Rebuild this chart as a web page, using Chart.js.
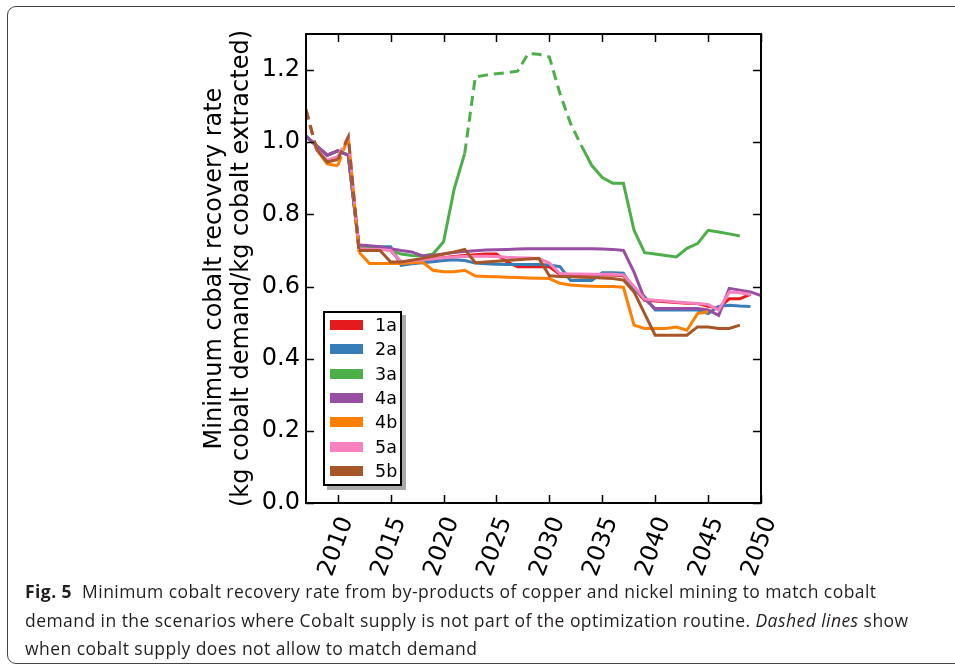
<!DOCTYPE html>
<html>
<head>
<meta charset="utf-8">
<script src="https://cdn.jsdelivr.net/npm/chart.js@4.4.1/dist/chart.umd.min.js"></script>
<style>
  body { margin: 0; background: #fff; overflow: hidden; width: 955px; height: 664px; }
  #frame { position: absolute; left: 7px; top: 6px; width: 980px; height: 656px; border: 1.3px solid #444; border-radius: 9px; }
  #wrap { position: absolute; left: 0; top: 0; width: 955px; height: 600px; }
  #legend { position: absolute; left: 323px; top: 311px; width: 79px; height: 175px; box-sizing: border-box;
            border: 2px solid #000; background: #fff; box-shadow: 4px 4px 0 #aaa; font-family: "DejaVu Sans"; font-size: 17.5px; }
  #legend .row { height: 24.3px; display: flex; align-items: center; }
  #legend .sw { width: 33px; height: 10px; margin-left: 5px; margin-right: 12px; }
  #caption { position: absolute; left: 25px; top: 577px; font-family: "Open Sans"; font-size: 17.5px; letter-spacing: 0.45px;
             line-height: 28.5px; color: #231f20; white-space: nowrap; }
</style>
</head>
<body>
<div id="frame"></div>
<div id="wrap"><canvas id="chart" width="955" height="600"></canvas></div>
<div id="legend"></div>
<div id="caption">
  <b>Fig. 5</b>&nbsp; Minimum cobalt recovery rate from by-products of copper and nickel mining to match cobalt<br>
  demand in the scenarios where Cobalt supply is not part of the optimization routine. <i>Dashed lines</i> show<br>
  when cobalt supply does not allow to match demand
</div>
<script>
const years = [2007, 2008, 2009, 2010, 2011, 2012, 2013, 2014, 2015, 2016,
               2017, 2018, 2019, 2020, 2021, 2022, 2023, 2024, 2025, 2026,
               2027, 2028, 2029, 2030, 2031, 2032, 2033, 2034, 2035, 2036,
               2037, 2038, 2039, 2040, 2041, 2042, 2043, 2044, 2045, 2046,
               2047, 2048, 2049, 2050];

const names = ['1a', '2a', '3a', '4a', '4b', '5a', '5b'];
const colors = ['#e41a1c', '#377eb8', '#4daf4a', '#984ea3', '#ff7f00', '#f781bf', '#a65628'];

const s1a = [1.017, 0.99, 0.964, 0.976, 0.964, 0.712, 0.71, 0.708, 0.70, 0.668,
             0.671, 0.674, 0.677, 0.68, 0.683, 0.686, 0.688, 0.69, 0.69, 0.668,
             0.655, 0.655, 0.655, 0.655, 0.634, 0.633, 0.633, 0.633, 0.632, 0.632,
             0.63, 0.595, 0.562, 0.56, 0.558, 0.556, 0.554, 0.553, 0.545, 0.54,
             0.566, 0.566, 0.578];
const s2a = [1.017, 0.99, 0.964, 0.976, 0.964, 0.712, 0.711, 0.71, 0.71, 0.659,
             0.663, 0.666, 0.669, 0.672, 0.674, 0.672, 0.665, 0.663, 0.662, 0.661,
             0.661, 0.661, 0.661, 0.66, 0.655, 0.617, 0.617, 0.617, 0.638, 0.638,
             0.637, 0.59, 0.572, 0.535, 0.535, 0.535, 0.535, 0.535, 0.525, 0.545,
             0.548, 0.546, 0.545];
const s3a = [1.017, 0.99, 0.964, 0.976, 0.964, 0.712, 0.71, 0.708, 0.70, 0.69,
             0.686, 0.685, 0.69, 0.724, 0.87, 0.969, 1.181, 1.186, 1.19, 1.193,
             1.197, 1.246, 1.244, 1.236, 1.135, 1.052, 0.992, 0.936, 0.902, 0.886,
             0.886, 0.756, 0.694, 0.69, 0.686, 0.682, 0.706, 0.719, 0.756, 0.751,
             0.746, 0.74];
const s4a = [1.017, 0.99, 0.964, 0.976, 0.964, 0.715, 0.713, 0.71, 0.705, 0.70,
             0.696, 0.685, 0.687, 0.69, 0.694, 0.697, 0.699, 0.701, 0.702, 0.703,
             0.704, 0.705, 0.705, 0.705, 0.705, 0.705, 0.705, 0.705, 0.704, 0.703,
             0.70, 0.64, 0.565, 0.539, 0.539, 0.539, 0.539, 0.539, 0.535, 0.52,
             0.595, 0.59, 0.585, 0.575];
const s4b = [1.09, 0.98, 0.94, 0.935, 1.015, 0.696, 0.664, 0.664, 0.664, 0.664,
             0.666, 0.668, 0.645, 0.641, 0.641, 0.645, 0.629, 0.628, 0.627, 0.626,
             0.625, 0.624, 0.623, 0.622, 0.609, 0.604, 0.602, 0.601, 0.60, 0.60,
             0.598, 0.493, 0.484, 0.484, 0.484, 0.488, 0.479, 0.525, 0.53];
const s5a = [1.09, 0.98, 0.95, 0.96, 1.015, 0.705, 0.703, 0.703, 0.70, 0.668,
             0.671, 0.674, 0.677, 0.68, 0.682, 0.683, 0.684, 0.684, 0.683, 0.681,
             0.68, 0.679, 0.678, 0.665, 0.636, 0.635, 0.635, 0.634, 0.634, 0.634,
             0.632, 0.60, 0.565, 0.562, 0.56, 0.557, 0.555, 0.553, 0.55, 0.535,
             0.585, 0.583, 0.578];
const s5b = [1.09, 0.98, 0.945, 0.952, 1.015, 0.70, 0.70, 0.70, 0.668, 0.668,
             0.673, 0.678, 0.684, 0.69, 0.696, 0.703, 0.666, 0.668, 0.67, 0.672,
             0.674, 0.676, 0.678, 0.63, 0.628, 0.627, 0.626, 0.625, 0.624, 0.622,
             0.618, 0.585, 0.525, 0.465, 0.465, 0.465, 0.465, 0.488, 0.488, 0.484,
             0.484, 0.493];
const series = [s1a, s2a, s3a, s4a, s4b, s5a, s5b];

// years where cobalt supply can't match demand (drawn dashed)
const shortYears = [[], [], [2023, 2024, 2025, 2026, 2027, 2028, 2029, 2030, 2031, 2032],
                    [], [2007, 2011], [2007, 2011], [2007, 2011]];

const xTicks = [2010, 2015, 2020, 2025, 2030, 2035, 2040, 2045, 2050];
const yTicks = [0, 0.2, 0.4, 0.6, 0.8, 1.0, 1.2];

const font = 'DejaVu Sans';

const frame = {
    id: 'frame',
    afterDatasetsDraw(chart) {
        const {ctx, chartArea: a, scales: {x, y}} = chart;
        ctx.save();
        ctx.strokeStyle = '#000';
        ctx.lineWidth = 1.5;
        ctx.beginPath();
        xTicks.forEach(v => {
            const px = Math.round(x.getPixelForValue(v)) + 0.5;
            ctx.moveTo(px, a.bottom); ctx.lineTo(px, a.bottom - 8);
            ctx.moveTo(px, a.top); ctx.lineTo(px, a.top + 8);
        });
        yTicks.forEach(v => {
            const py = Math.round(y.getPixelForValue(v)) + 0.5;
            ctx.moveTo(a.left, py); ctx.lineTo(a.left + 8, py);
            ctx.moveTo(a.right, py); ctx.lineTo(a.right - 8, py);
        });
        ctx.stroke();
        ctx.lineWidth = 2;
        ctx.strokeRect(a.left, a.top, a.width, a.height);
        ctx.restore();
    }
};

const datasets = names.map((n, i) => ({
    label: n,
    data: years.map((yr, k) => ({x: yr, y: series[i][k] ?? null})),
    borderColor: colors[i],
    backgroundColor: colors[i],
    borderWidth: 3,
    pointRadius: 0,
    tension: 0,
    order: names.length - i,
    segment: {
        borderDash: ctx => (shortYears[i].includes(years[ctx.p0DataIndex]) ||
                            shortYears[i].includes(years[ctx.p1DataIndex])) ? [10, 6] : undefined
    }
}));

const chart = new Chart(document.getElementById('chart'), {
    type: 'line',
    data: {datasets},
    plugins: [frame],
    options: {
        responsive: false,
        animation: false,
        devicePixelRatio: 1,
        layout: {padding: {left: 190, top: 34, right: 194, bottom: 0}},
        plugins: {legend: {display: false}, tooltip: {enabled: false}},
        scales: {
            x: {
                type: 'linear',
                min: 2007,
                max: 2050,
                afterBuildTicks: s => { s.ticks = xTicks.map(v => ({value: v})); },
                afterFit: s => { s.height = 97; },
                grid: {display: false, drawTicks: false},
                border: {display: false},
                ticks: {
                    autoSkip: false,
                    minRotation: 70,
                    maxRotation: 70,
                    padding: 10,
                    labelOffset: 9,
                    color: '#000',
                    font: {family: font, size: 24},
                    callback: v => String(v)
                }
            },
            y: {
                min: 0,
                max: 1.3,
                afterBuildTicks: s => { s.ticks = yTicks.map(v => ({value: v})); },
                afterFit: s => { s.width = 116; },
                grid: {display: false, drawTicks: false},
                border: {display: false},
                ticks: {
                    padding: 6,
                    color: '#000',
                    font: {family: font, size: 24},
                    callback: v => v.toFixed(1)
                },
                title: {
                    display: true,
                    text: ['Minimum cobalt recovery rate', '(kg cobalt demand/kg cobalt extracted)'],
                    color: '#000',
                    font: {family: font, size: 24, lineHeight: 1.12},
                    padding: {top: 11, bottom: 0}
                }
            }
        }
    }
});

// legend box inside the plot, built from the datasets
const legend = document.getElementById('legend');
chart.data.datasets.forEach(ds => {
    const row = document.createElement('div');
    row.className = 'row';
    row.innerHTML = `<span class="sw" style="background:${ds.borderColor}"></span><span>${ds.label}</span>`;
    legend.appendChild(row);
});
</script>
</body>
</html>
